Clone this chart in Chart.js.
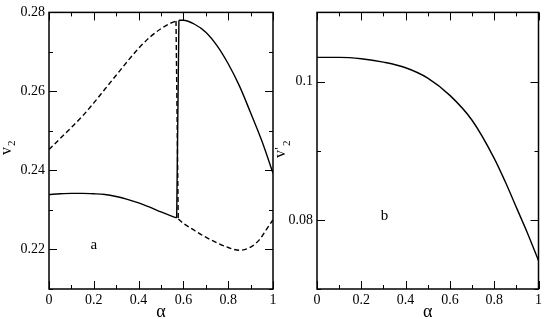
<!DOCTYPE html>
<html>
<head>
<meta charset="utf-8">
<title>v2 vs alpha</title>
<script src="https://cdn.jsdelivr.net/npm/chart.js@4/dist/chart.umd.min.js"></script>
<style>
    html, body { margin: 0; padding: 0; background: #ffffff; }
    .panel { position: absolute; top: 0; height: 319px; }
    #panelA { left: 0; width: 280px; }
    #panelB { left: 275px; width: 270px; }
</style>
</head>
<body>
<div class="panel" id="panelA"><canvas id="chartA" width="280" height="319"></canvas></div>
<div class="panel" id="panelB"><canvas id="chartB" width="270" height="319"></canvas></div>
<script>
const FONT = 'Liberation Serif';
Chart.defaults.font.family = FONT;
Chart.defaults.color = '#000';

// axis ticks
const alphaTicks = [0, 0.2, 0.4, 0.6, 0.8, 1];
const alphaTickText = ['0', '0.2', '0.4', '0.6', '0.8', '1'];
const alphaMinor = [0.1, 0.3, 0.5, 0.7, 0.9];
const v2Ticks = [0.22, 0.24, 0.26, 0.28];
const v2TickText = ['0.22', '0.24', '0.26', '0.28'];
const v2Minor = [0.21, 0.23, 0.25, 0.27];
const vp2Ticks = [0.08, 0.1];
const vp2TickText = ['0.08', '0.1'];
const vp2Minor = [0.07, 0.09, 0.11];

// panel a: dashed branch
const dashUpAlpha = [0, 0.05, 0.1, 0.15, 0.2, 0.25, 0.3, 0.35, 0.4, 0.45, 0.5, 0.54, 0.567];
const dashUpV2 = [0.2453, 0.2481, 0.2509, 0.2538, 0.2571, 0.2606, 0.2641, 0.2676, 0.2709, 0.2737, 0.2759, 0.2772, 0.2778];
const dashJumpAlpha = [0.567, 0.577];
const dashJumpV2 = [0.2778, 0.2277];
const dashLowAlpha = [0.577, 0.6, 0.65, 0.7, 0.75, 0.8, 0.85, 0.9, 0.94, 0.97, 1.0];
const dashLowV2 = [0.2277, 0.2266, 0.2248, 0.2231, 0.2217, 0.2205, 0.2198, 0.2206, 0.2225, 0.2250, 0.2275];

// panel a: solid branch
const solidLowAlpha = [0, 0.05, 0.1, 0.15, 0.2, 0.25, 0.3, 0.35, 0.4, 0.45, 0.5, 0.55, 0.57];
const solidLowV2 = [0.2339, 0.2341, 0.2342, 0.2342, 0.2341, 0.2339, 0.2334, 0.2327, 0.2318, 0.2307, 0.2295, 0.2284, 0.2280];
const solidJumpAlpha = [0.570, 0.580];
const solidJumpV2 = [0.2280, 0.2780];
const solidUpAlpha = [0.58, 0.6, 0.65, 0.7, 0.75, 0.8, 0.85, 0.9, 0.95, 1.0];
const solidUpV2 = [0.2780, 0.2780, 0.2770, 0.2750, 0.2716, 0.2670, 0.2614, 0.2546, 0.2475, 0.2393];

// panel b
const bAlpha = [0, 0.1, 0.2, 0.3, 0.4, 0.5, 0.6, 0.7, 0.8, 0.85, 0.9, 0.95, 1.0];
const bVp2 = [0.1035, 0.1035, 0.1033, 0.1028, 0.1020, 0.1005, 0.0980, 0.0944, 0.0889, 0.0855, 0.0818, 0.0781, 0.0741];

function pts(xs, ys) {
    return xs.map((x, i) => ({ x: x, y: ys[i] }));
}

function curve(xs, ys, dashed) {
    return {
        data: pts(xs, ys),
        showLine: true,
        borderColor: '#000',
        borderWidth: 1.4,
        borderDash: dashed ? [5, 3] : [],
        pointRadius: 0,
        cubicInterpolationMode: 'monotone'
    };
}

// box around the plot, inward ticks, α, panel letter, rotated y title
function boxTicks(cfg) {
    return {
        id: 'boxTicks',
        afterDatasetsDraw(chart) {
            const ctx = chart.ctx;
            const area = chart.chartArea;
            const sx = chart.scales.x;
            const sy = chart.scales.y;
            ctx.save();
            ctx.setLineDash([]);
            ctx.strokeStyle = '#000';
            ctx.lineWidth = 1.5;
            ctx.strokeRect(area.left, area.top, area.right - area.left, area.bottom - area.top);

            ctx.lineWidth = 1;
            ctx.beginPath();
            alphaTicks.concat(alphaMinor).forEach((v, i) => {
                const len = i < alphaTicks.length ? 8 : 4;
                const px = Math.round(sx.getPixelForValue(v)) + 0.5;
                ctx.moveTo(px, area.bottom);
                ctx.lineTo(px, area.bottom - len);
                ctx.moveTo(px, area.top);
                ctx.lineTo(px, area.top + len);
            });
            cfg.ticks.concat(cfg.minor).forEach((v, i) => {
                const len = i < cfg.ticks.length ? 8 : 4;
                const py = Math.round(sy.getPixelForValue(v)) + 0.5;
                ctx.moveTo(area.left, py);
                ctx.lineTo(area.left + len, py);
                ctx.moveTo(area.right, py);
                ctx.lineTo(area.right - len, py);
            });
            ctx.stroke();

            ctx.fillStyle = '#000';
            ctx.textAlign = 'center';
            ctx.textBaseline = 'alphabetic';
            ctx.font = '18px "' + FONT + '"';
            ctx.fillText('α', sx.getPixelForValue(0.5), 317);

            ctx.font = '15px "' + FONT + '"';
            ctx.textBaseline = 'middle';
            ctx.fillText(cfg.letter, sx.getPixelForValue(cfg.letterAt[0]), sy.getPixelForValue(cfg.letterAt[1]));

            ctx.translate(cfg.titleX, cfg.titleY);
            ctx.rotate(-Math.PI / 2);
            ctx.textAlign = 'left';
            ctx.textBaseline = 'alphabetic';
            ctx.font = '16px "' + FONT + '"';
            ctx.fillText(cfg.title, 0, 0);
            const tw = ctx.measureText(cfg.title).width;
            ctx.font = '11px "' + FONT + '"';
            ctx.fillText('2', tw + 1, cfg.subShift);
            ctx.restore();
        }
    };
}

function panel(canvasId, datasets, yMin, yMax, yTicks, yText, yWidth, padRight, cfg) {
    return new Chart(document.getElementById(canvasId), {
        type: 'scatter',
        data: { datasets: datasets },
        options: {
            responsive: false,
            animation: false,
            events: [],
            layout: { padding: { top: 6, right: padRight, left: 0, bottom: 0 } },
            plugins: { legend: { display: false }, tooltip: { enabled: false } },
            scales: {
                x: {
                    type: 'linear',
                    min: 0,
                    max: 1,
                    grid: { display: false, drawTicks: false },
                    border: { display: false },
                    afterBuildTicks: s => { s.ticks = alphaTicks.map(v => ({ value: v })); },
                    afterFit: s => { s.height = 30; },
                    ticks: {
                        padding: 3,
                        maxRotation: 0,
                        autoSkip: false,
                        font: { size: 14 },
                        callback: (v, i) => alphaTickText[i]
                    }
                },
                y: {
                    type: 'linear',
                    min: yMin,
                    max: yMax,
                    grid: { display: false, drawTicks: false },
                    border: { display: false },
                    afterBuildTicks: s => { s.ticks = yTicks.map(v => ({ value: v })); },
                    afterFit: s => { s.width = yWidth; },
                    ticks: {
                        padding: 4,
                        autoSkip: false,
                        font: { size: 14 },
                        callback: (v, i) => yText[i]
                    }
                }
            }
        },
        plugins: [boxTicks(cfg)]
    });
}

panel('chartA', [
    curve(dashUpAlpha, dashUpV2, true),
    curve(dashJumpAlpha, dashJumpV2, true),
    curve(dashLowAlpha, dashLowV2, true),
    curve(solidLowAlpha, solidLowV2, false),
    curve(solidJumpAlpha, solidJumpV2, false),
    curve(solidUpAlpha, solidUpV2, false)
], 0.21, 0.28, v2Ticks, v2TickText, 49, 7, {
    ticks: v2Ticks, minor: v2Minor,
    letter: 'a', letterAt: [0.2, 0.2212],
    title: 'v', titleX: 11, titleY: 155, subShift: 4
});

panel('chartB', [
    curve(bAlpha, bVp2, false)
], 0.07, 0.11, vp2Ticks, vp2TickText, 42, 5, {
    ticks: vp2Ticks, minor: vp2Minor,
    letter: 'b', letterAt: [0.305, 0.0806],
    title: "v'", titleX: 10, titleY: 158, subShift: 5
});
</script>
</body>
</html>
